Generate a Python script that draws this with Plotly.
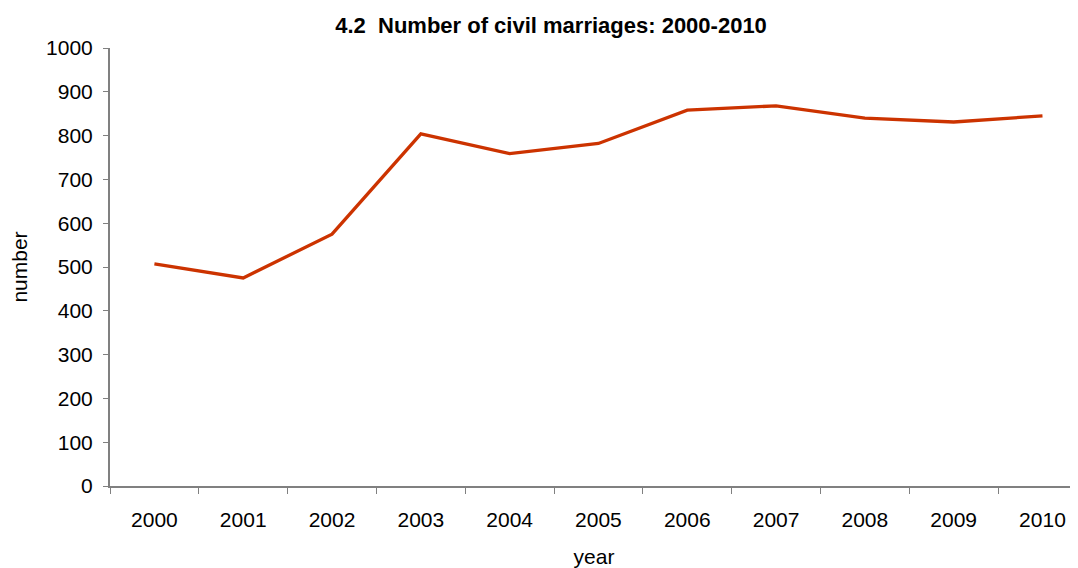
import plotly.graph_objects as go

# data
years = ['2000', '2001', '2002', '2003', '2004', '2005',
         '2006', '2007', '2008', '2009', '2010']
marriages = [507, 475, 575, 804, 759, 782, 858, 868, 840, 831, 845]

axis_grey = '#808080'
font_family = 'Liberation Sans, Arial, sans-serif'

fig = go.Figure()
fig.add_trace(go.Scatter(x=years, y=marriages, mode='lines',
                         line=dict(color='#CC3300', width=3.3)))

# page body has an 8px margin, so the figure is a bit smaller than the window
fig.update_layout(
    width=1070, height=560,
    margin=dict(l=102, r=0, t=40, b=82),
    paper_bgcolor='white', plot_bgcolor='white',
    showlegend=False,
    font=dict(family=font_family, size=21, color='black'),
    title=dict(text='<b>4.2  Number of civil marriages: 2000-2010</b>',
               x=0.5075, xanchor='center', y=0.970, yanchor='middle',
               font=dict(size=22)),
)

# the original plot area runs a little past the right edge
fig.update_xaxes(
    type='category', range=[-0.5, 10.4], automargin=False,
    showline=True, linecolor=axis_grey, linewidth=2,
    ticks='outside', tickson='boundaries', ticklen=6, tickcolor=axis_grey, tickwidth=1,
    showgrid=False, zeroline=False,
    ticklabelstandoff=14,
    title=dict(text='year', standoff=26, font=dict(size=21)),
)

fig.update_yaxes(
    range=[0, 1000], dtick=100, automargin=False,
    showline=True, linecolor=axis_grey, linewidth=2,
    ticks='outside', ticklen=5, tickcolor=axis_grey, tickwidth=1,
    showgrid=False, zeroline=False,
    ticklabelstandoff=6,
    title=dict(text='number', standoff=16, font=dict(size=21)),
)

fig.write_html('out.html')
